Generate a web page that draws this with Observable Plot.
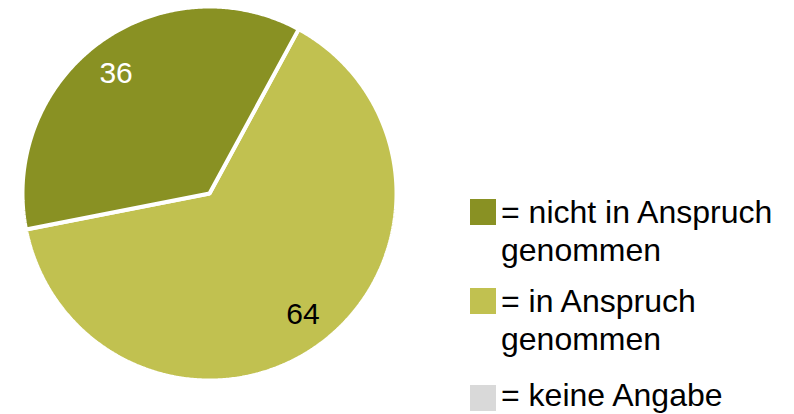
<!DOCTYPE html>
<html>
<head>
<meta charset="utf-8">
<script src="https://cdn.jsdelivr.net/npm/d3@7"></script>
<script src="https://cdn.jsdelivr.net/npm/@observablehq/plot@0.6"></script>
<style>
  html, body { margin: 0; padding: 0; background: #fff; }
  #wrap { position: relative; width: 794px; height: 414px; overflow: hidden; font-family: "Liberation Sans", Arial, sans-serif; }
  #wrap svg { position: absolute; left: 0; top: 0; }
  .lg { position: absolute; font-size: 32px; line-height: 38px; color: #000; white-space: nowrap; }
  .sw { position: absolute; width: 26px; height: 26px; }
</style>
</head>
<body>
<div id="wrap"></div>
<script>
// Data
const categories = ["nicht in Anspruch genommen", "in Anspruch genommen", "keine Angabe"];
const values = [36, 64, 0];
const colors = ["#899123", "#c1c150", "#d9d9d9"];
const labelColors = ["#ffffff", "#000000", "#000000"];
const legendLines = [["= nicht in Anspruch", "genommen"], ["= in Anspruch", "genommen"], ["= keine Angabe"]];

// Pie layout (drawing order: in Anspruch first, starting at ~28.5° from north)
const start = 28.5 * Math.PI / 180;
const labelShift = -1.5 * Math.PI / 180;
const order = [1, 0, 2];
const pie = d3.pie().sort(null).value(i => values[i]).startAngle(start).endAngle(start + 2 * Math.PI);
const arcs = pie(order);

const poly = [];
const labels = [];
for (const a of arcs) {
  const i = a.data;
  if (a.endAngle - a.startAngle <= 0) continue;
  const cat = categories[i];
  poly.push({cat, x: 0, y: 0});
  const n = Math.max(2, Math.ceil((a.endAngle - a.startAngle) / (Math.PI / 360)));
  for (let k = 0; k <= n; k++) {
    const t = a.startAngle + (a.endAngle - a.startAngle) * k / n;
    poly.push({cat, x: Math.sin(t), y: Math.cos(t)});
  }
  const m = (a.startAngle + a.endAngle) / 2 + labelShift;
  labels.push({cat, value: values[i], x: 0.815 * Math.sin(m), y: 0.815 * Math.cos(m), color: labelColors[i]});
}

const chart = Plot.plot({
  width: 794,
  height: 414,
  marginLeft: 22,
  marginRight: 398,
  marginTop: 6,
  marginBottom: 34,
  x: {domain: [-1, 1], axis: null},
  y: {domain: [-1, 1], axis: null},
  color: {domain: categories, range: colors},
  style: {fontFamily: "Liberation Sans, Arial, sans-serif", background: "#fff"},
  marks: [
    Plot.line(poly, {x: "x", y: "y", z: "cat", fill: "cat", stroke: "#fff", strokeWidth: 4, strokeLinejoin: "miter", curve: "linear-closed"}),
    Plot.text(labels, {x: "x", y: "y", text: d => String(d.value), fill: d => d.color, fontSize: 30, textAnchor: "middle", dy: 0})
  ]
});

const wrap = document.getElementById("wrap");
wrap.appendChild(chart);

// Legend
const tops = [193, 282, 376];
const swTops = [199, 288, 385];
categories.forEach((c, i) => {
  const sw = document.createElement("div");
  sw.className = "sw";
  sw.style.left = "470px";
  sw.style.top = swTops[i] + "px";
  sw.style.background = colors[i];
  wrap.appendChild(sw);
  const lg = document.createElement("div");
  lg.className = "lg";
  lg.style.left = "501px";
  lg.style.top = tops[i] + "px";
  lg.innerHTML = legendLines[i].join("<br>");
  wrap.appendChild(lg);
});
</script>
</body>
</html>
